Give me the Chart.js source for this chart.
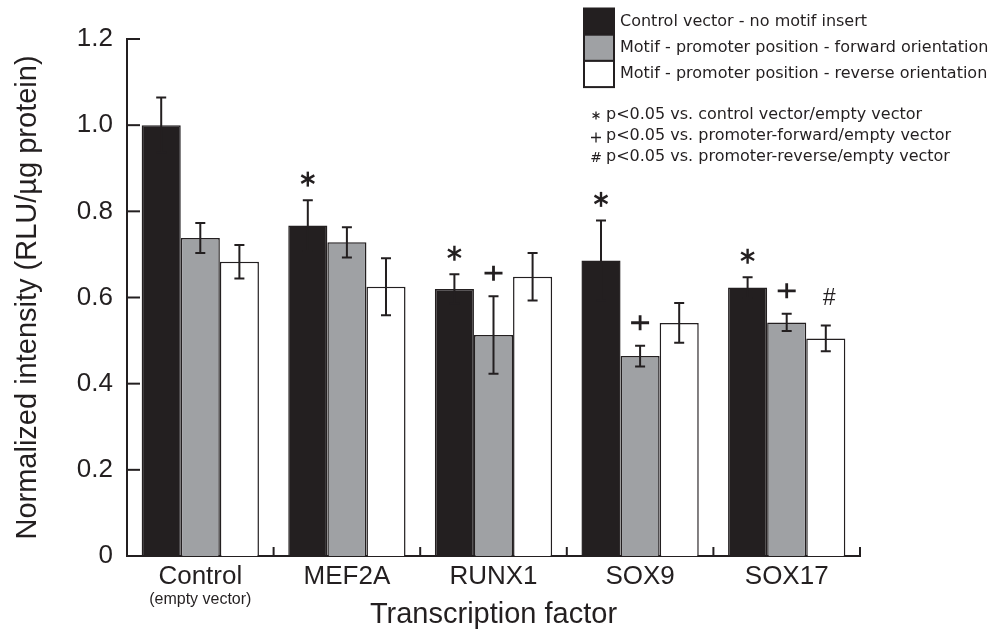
<!DOCTYPE html>
<html lang="en">
<head>
  <meta charset="UTF-8" />
  <title>Normalized intensity by transcription factor</title>
  <script src="https://cdn.jsdelivr.net/npm/chart.js"></script>
  <style>
    html, body { margin: 0; padding: 0; background: #fff; }
    .chart-box { position: relative; width: 998px; height: 633px; }
  </style>
</head>
<body>
  <div class="chart-box">
    <canvas id="tfChart"></canvas>
  </div>

  <script>
    // values
    const categories = ['Control', 'MEF2A', 'RUNX1', 'SOX9', 'SOX17'];
    const categoryNotes = ['(empty vector)', '', '', '', ''];

    const controlVector = [1.000, 0.767, 0.620, 0.686, 0.623];
    const controlErr    = [0.064, 0.059, 0.034, 0.093, 0.024];
    const controlMarks  = ['', '*', '*', '*', '*'];

    const promoterForward = [0.738, 0.728, 0.513, 0.464, 0.542];
    const forwardErr      = [0.035, 0.035, 0.090, 0.024, 0.020];
    const forwardMarks    = ['', '', '+', '+', '+'];

    const promoterReverse = [0.683, 0.625, 0.648, 0.541, 0.505];
    const reverseErr      = [0.039, 0.066, 0.055, 0.046, 0.030];
    const reverseMarks    = ['', '', '', '', '#'];

    const yTicks = [0, 0.2, 0.4, 0.6, 0.8, 1.0, 1.2];

    const sigNotes = [
      ['*', 'p<0.05 vs. control vector/empty vector'],
      ['+', 'p<0.05 vs. promoter-forward/empty vector'],
      ['#', 'p<0.05 vs. promoter-reverse/empty vector']
    ];

    const INK = '#231f20';
    const ARIAL = '"Liberation Sans", Arial, sans-serif';
    const VERDANA = '"DejaVu Sans", Verdana, sans-serif';

    // small helpers for the significance symbols
    function drawStar(ctx, x, y, r) {
      for (let k = 0; k < 3; k++) {
        const a = Math.PI / 2 + k * Math.PI / 3;
        ctx.beginPath();
        ctx.moveTo(x + r * Math.cos(a), y - r * Math.sin(a));
        ctx.lineTo(x - r * Math.cos(a), y + r * Math.sin(a));
        ctx.stroke();
      }
    }
    function drawPlus(ctx, x, y, w, h) {
      ctx.beginPath();
      ctx.moveTo(x - w, y); ctx.lineTo(x + w, y);
      ctx.moveTo(x, y - h); ctx.lineTo(x, y + h);
      ctx.stroke();
    }

    // error bars, marks, inward ticks, sub-label, legend
    const extras = {
      id: 'extras',
      afterDatasetsDraw(chart) {
        const ctx = chart.ctx;
        const y = chart.scales.y;
        const x = chart.scales.x;
        const area = chart.chartArea;
        ctx.save();
        ctx.strokeStyle = INK;
        ctx.fillStyle = INK;

        chart.data.datasets.forEach((ds, di) => {
          const meta = chart.getDatasetMeta(di);
          meta.data.forEach((bar, i) => {
            const v = ds.data[i], e = ds.errors[i];
            const top = y.getPixelForValue(v + e);
            const bot = y.getPixelForValue(v - e);
            ctx.lineWidth = 2;
            ctx.beginPath();
            ctx.moveTo(bar.x, top); ctx.lineTo(bar.x, bot);
            ctx.moveTo(bar.x - 5, top); ctx.lineTo(bar.x + 5, top);
            ctx.moveTo(bar.x - 5, bot); ctx.lineTo(bar.x + 5, bot);
            ctx.stroke();

            const m = ds.marks[i];
            if (m === '*') {
              ctx.lineWidth = 2.4;
              drawStar(ctx, bar.x, top - 21, 7.5);
            } else if (m === '+') {
              ctx.lineWidth = 2.8;
              drawPlus(ctx, bar.x, top - 23, 9, 7.5);
            } else if (m === '#') {
              ctx.font = 'italic 23px ' + ARIAL;
              ctx.textAlign = 'center';
              ctx.textBaseline = 'middle';
              ctx.fillText('#', bar.x + 3, top - 27);
            }
          });
        });

        // y ticks pointing inward
        ctx.lineWidth = 2;
        y.ticks.forEach(t => {
          const py = y.getPixelForValue(t.value);
          ctx.beginPath();
          ctx.moveTo(area.left, py); ctx.lineTo(area.left + 13, py);
          ctx.stroke();
        });

        // x ticks at group boundaries, pointing up
        categories.forEach((c, i) => {
          const px = i < categories.length - 1
            ? (x.getPixelForValue(i) + x.getPixelForValue(i + 1)) / 2
            : area.right;
          ctx.beginPath();
          ctx.moveTo(px, area.bottom); ctx.lineTo(px, area.bottom - 9);
          ctx.stroke();
        });

        // small note under a category label
        ctx.font = '16px ' + ARIAL;
        ctx.textAlign = 'center';
        ctx.textBaseline = 'middle';
        categoryNotes.forEach((n, i) => {
          if (n) ctx.fillText(n, x.getPixelForValue(i), 600);
        });

        // legend
        const lx = 584, ly = 8.5, bw = 30, bh = 26.2;
        ctx.font = '16px ' + VERDANA;
        ctx.textAlign = 'left';
        chart.data.datasets.forEach((ds, di) => {
          const by = ly + di * bh;
          ctx.fillStyle = ds.backgroundColor;
          ctx.fillRect(lx, by, bw, bh);
          ctx.lineWidth = 2;
          ctx.strokeStyle = INK;
          ctx.strokeRect(lx, by, bw, bh);
          ctx.fillStyle = INK;
          ctx.fillText(ds.label, lx + 36, by + bh / 2);
        });

        // significance key
        sigNotes.forEach((n, k) => {
          const ny = 114.5 + k * 21;
          ctx.fillStyle = INK;
          ctx.font = '16px ' + VERDANA;
          ctx.textAlign = 'left';
          ctx.fillText(n[1], 606, ny);
          ctx.lineWidth = 1.3;
          if (n[0] === '*') {
            drawStar(ctx, 596, ny + 1, 4);
          } else if (n[0] === '+') {
            drawPlus(ctx, 596, ny + 2, 5, 5);
          } else {
            ctx.font = '14px ' + VERDANA;
            ctx.textAlign = 'center';
            ctx.fillText('#', 596, ny + 2);
          }
        });
        ctx.restore();
      }
    };

    const ctx = document.getElementById('tfChart').getContext('2d');
    new Chart(ctx, {
      type: 'bar',
      data: {
        labels: categories,
        datasets: [
          {
            label: 'Control vector - no motif insert',
            data: controlVector, errors: controlErr, marks: controlMarks,
            backgroundColor: INK
          },
          {
            label: 'Motif - promoter position - forward orientation',
            data: promoterForward, errors: forwardErr, marks: forwardMarks,
            backgroundColor: '#9fa1a4'
          },
          {
            label: 'Motif - promoter position - reverse orientation',
            data: promoterReverse, errors: reverseErr, marks: reverseMarks,
            backgroundColor: '#ffffff'
          }
        ].map(d => Object.assign(d, {
          borderColor: INK,
          borderWidth: 1.5,
          borderSkipped: 'start',
          categoryPercentage: 0.8,
          barPercentage: 1.0
        }))
      },
      options: {
        responsive: true,
        maintainAspectRatio: false,
        animation: false,
        layout: { padding: { top: 39, right: 138, bottom: 0, left: 0 } },
        plugins: {
          legend: { display: false },
          tooltip: { enabled: false }
        },
        scales: {
          x: {
            grid: { display: false, drawTicks: false },
            border: { display: true, color: INK, width: 2 },
            ticks: {
              color: INK,
              padding: 8,
              font: { family: ARIAL, size: 26, lineHeight: 1 }
            },
            title: {
              display: true,
              text: 'Transcription factor',
              color: INK,
              font: { family: ARIAL, size: 29, lineHeight: 1 },
              padding: { top: 0, bottom: 4 }
            },
            afterFit: s => { s.height = 77; }
          },
          y: {
            min: 0,
            max: 1.2,
            grid: { display: false, drawTicks: false },
            border: { display: true, color: INK, width: 2 },
            afterBuildTicks: s => { s.ticks = yTicks.map(v => ({ value: v })); },
            ticks: {
              color: INK,
              padding: 14,
              font: { family: ARIAL, size: 26, lineHeight: 1 },
              callback: v => v === 0 ? '0' : v.toFixed(1)
            },
            title: {
              display: true,
              text: 'Normalized intensity (RLU/\u00b5g protein)',
              color: INK,
              font: { family: ARIAL, size: 29, lineHeight: 1 },
              padding: { top: 13, bottom: 0 }
            },
            afterFit: s => { s.width = 127; }
          }
        }
      },
      plugins: [extras]
    });
  </script>
</body>
</html>
